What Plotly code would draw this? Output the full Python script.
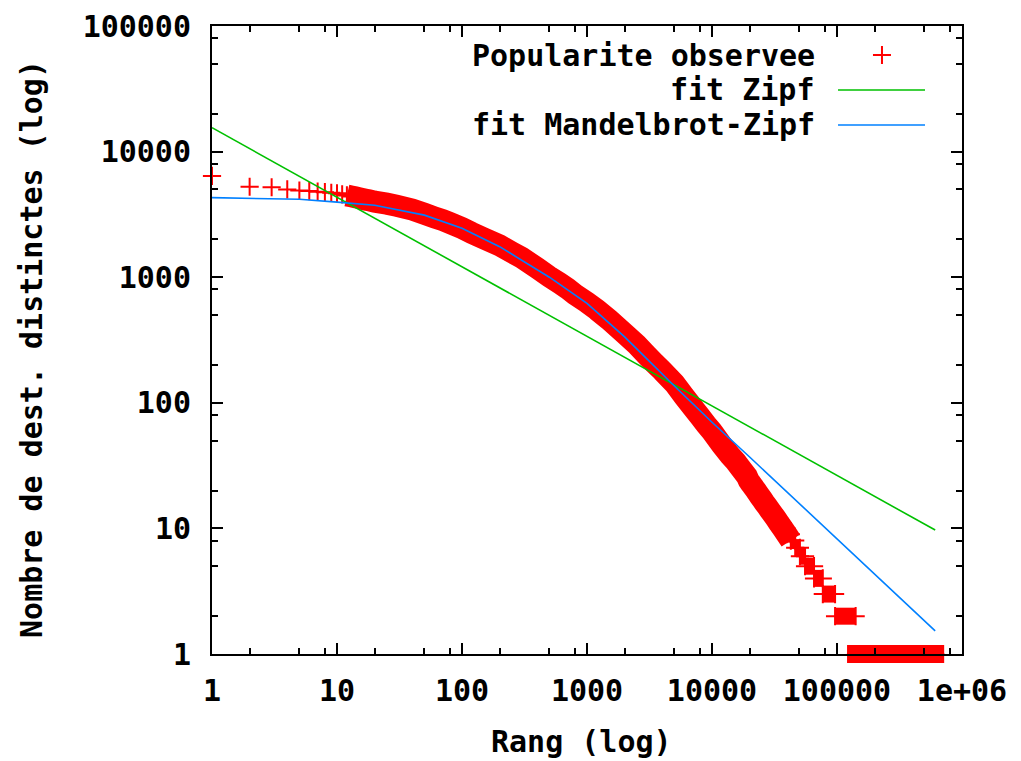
import plotly.graph_objects as go

# ---------------- data ----------------
# observed popularity: rank -> number of distinct destinations (dense part)
obs_rank = [1, 2, 3, 4, 5, 6, 7, 8, 9, 10,
            11, 12, 13, 14, 15, 16, 17, 18, 19, 20,
            25, 30, 40, 50, 60, 70, 80, 100, 120, 150,
            200, 250, 300, 400, 500, 600, 700, 800, 1000, 1200,
            1500, 2000, 2500, 3000, 3500, 4000, 5000, 6000, 7000, 8000,
            9000, 10000, 12000, 14000, 15500, 17000, 19000]
obs_value = [6400, 5250, 5200, 5000, 4900, 4850, 4800, 4750, 4700, 4650,
             4560, 4480, 4400, 4330, 4260, 4200, 4140, 4090, 4040, 3990,
             3850, 3700, 3450, 3200, 3000, 2850, 2700, 2460, 2250, 2030,
             1790, 1580, 1430, 1180, 1010, 900, 810, 730, 630, 550,
             460, 355, 290, 240, 205, 180, 143, 112, 92, 78,
             67, 59, 46, 38, 34, 30, 26]

# tail plateaus (integer counts): value, first rank, last rank
plateau_value = [25, 24, 23, 22, 21, 20, 19, 18, 17, 16, 15, 14, 13, 12, 11,
                 10, 9, 8, 7, 6, 5, 4, 3, 2]
plateau_first = [19000, 19700, 20300, 21000, 21700, 22500, 23300, 24200, 25200,
                 26300, 27600, 29000, 30600, 32400, 34400, 36800, 39500, 42700,
                 46300, 50500, 55500, 65500, 77000, 96500]
plateau_last = [19700, 20300, 21000, 21700, 22500, 23300, 24200, 25200, 26300,
                27600, 29000, 30600, 32400, 34400, 36800, 39500, 42700, 46300,
                50500, 55500, 65500, 77000, 96500, 141000]

# ranks read along the value-1 plateau (142000 .. 610000)
ones_rank = [142000, 165000, 190000, 220000, 255000, 295000,
             340000, 395000, 455000, 525000, 610000]
ones_value = [1] * len(ones_rank)

# fit Zipf (straight line in log-log)
zipf_rank = [1, 610000]
zipf_value = [15500, 9.7]

# fit Mandelbrot-Zipf
mz_rank = [1, 2, 5, 10, 20, 50, 100, 200, 500, 1000, 2000, 5000,
           10000, 20000, 50000, 100000, 200000, 400000, 610000]
mz_value = [4300, 4265, 4170, 3960, 3740, 3120, 2455, 1750, 1000, 620, 335, 136,
            70, 37, 15.7, 8.2, 4.3, 2.27, 1.53]

x_tickvals = [1, 10, 100, 1000, 10000, 100000, 1000000]
x_ticktext = ["1", "10", "100", "1000", "10000", "100000", "1e+06"]
x_minor = [2, 5, 8, 20, 50, 80, 200, 500, 800, 2000, 5000, 8000,
           20000, 50000, 80000, 200000, 500000, 800000]
y_tickvals = [1, 10, 100, 1000, 10000, 100000]
y_ticktext = ["1", "10", "100", "1000", "10000", "100000"]
y_minor = [2, 5, 8, 20, 50, 80, 200, 500, 800, 2000, 5000, 8000,
           20000, 50000, 80000]

RED = "#ff0000"
GREEN = "#00c000"
BLUE = "#0080ff"
FONT = "DejaVu Sans Mono"
FS = 30

# ---------------- figure ----------------
fig = go.Figure()

# solid band under the dense crosses: from rank 12 on, continued along the
# starts of the tail plateaus down to value 8
start = obs_rank.index(12)
stop = plateau_value.index(8) + 1
band_x = obs_rank[start:] + plateau_first[1:stop]
band_y = obs_value[start:] + plateau_value[1:stop]
fig.add_trace(go.Scatter(x=band_x, y=band_y, mode="lines",
                         line=dict(color=RED, width=22, simplify=False),
                         hoverinfo="skip", showlegend=False))

# plateau blocks of the tail
px, py = [], []
for v, a, b in zip(plateau_value, plateau_first, plateau_last):
    px += [a, b, None]
    py += [v, v, None]
fig.add_trace(go.Scatter(x=px, y=py, mode="lines",
                         line=dict(color=RED, width=17, simplify=False),
                         hoverinfo="skip", showlegend=False))

# value-1 plateau block (unclipped so it overhangs the bottom axis)
fig.add_trace(go.Scatter(x=ones_rank, y=ones_value, mode="markers",
                         marker=dict(symbol="square", size=18, color=RED,
                                     line=dict(width=0)),
                         cliponaxis=False, hoverinfo="skip", showlegend=False))

# observed points as crosses
cx = obs_rank + [r for p in zip(plateau_first, plateau_last) for r in p] + ones_rank
cy = obs_value + [v for v in plateau_value for _ in (0, 1)] + ones_value
fig.add_trace(go.Scatter(x=cx, y=cy, mode="markers", name="Popularite observee",
                         marker=dict(symbol="cross-thin", size=13,
                                     line=dict(color=RED, width=2)),
                         cliponaxis=False, showlegend=False))

fig.add_trace(go.Scatter(x=zipf_rank, y=zipf_value, mode="lines", name="fit Zipf",
                         line=dict(color=GREEN, width=1.6), showlegend=False))
fig.add_trace(go.Scatter(x=mz_rank, y=mz_value, mode="lines",
                         name="fit Mandelbrot-Zipf",
                         line=dict(color=BLUE, width=1.6), showlegend=False))

axis_common = dict(type="log", ticks="inside", ticklen=11, tickwidth=2,
                   tickcolor="black", showline=True, linecolor="black",
                   linewidth=2, mirror="ticks", showgrid=False, zeroline=False,
                   tickfont=dict(family=FONT, size=FS, color="black", weight="bold"))

fig.update_xaxes(range=[0, 6], tickmode="array", tickvals=x_tickvals,
                 ticktext=x_ticktext, ticklabelstandoff=9,
                 minor=dict(tickmode="array", tickvals=x_minor, ticks="inside",
                            ticklen=6, tickwidth=1.5, tickcolor="black",
                            showgrid=False),
                 **axis_common)
fig.update_yaxes(range=[0, 5], tickmode="array", tickvals=y_tickvals,
                 ticktext=y_ticktext, ticklabelstandoff=13,
                 minor=dict(tickmode="array", tickvals=y_minor, ticks="inside",
                            ticklen=6, tickwidth=1.5, tickcolor="black",
                            showgrid=False),
                 **axis_common)

bold = dict(family=FONT, size=FS, color="black", weight="bold")
annotations = [
    dict(text="Rang (log)", x=0.4927, y=-0.1401, xref="paper", yref="paper",
         xanchor="center", yanchor="middle", showarrow=False, font=bold),
    dict(text="Nombre de dest. distinctes (log)", x=-0.24, y=0.4857,
         xref="paper", yref="paper", xanchor="center", yanchor="middle",
         textangle=-90, showarrow=False, font=bold),
    dict(text="Popularite observee", x=0.8067, y=0.9538, xref="paper",
         yref="paper", xanchor="right", yanchor="middle", showarrow=False, font=bold),
    dict(text="fit Zipf", x=0.8067, y=0.8981, xref="paper", yref="paper",
         xanchor="right", yanchor="middle", showarrow=False, font=bold),
    dict(text="fit Mandelbrot-Zipf", x=0.8067, y=0.8424, xref="paper",
         yref="paper", xanchor="right", yanchor="middle", showarrow=False, font=bold),
]
shapes = [
    dict(type="path", xref="paper", yref="paper", xsizemode="pixel",
         ysizemode="pixel", xanchor=0.8933, yanchor=0.9538,
         path="M-9,0 L9,0 M0,-9 L0,9", line=dict(color=RED, width=2)),
    dict(type="line", xref="paper", yref="paper", x0=0.8347, x1=0.9507,
         y0=0.8981, y1=0.8981, line=dict(color=GREEN, width=1.6)),
    dict(type="line", xref="paper", yref="paper", x0=0.8347, x1=0.9507,
         y0=0.8424, y1=0.8424, line=dict(color=BLUE, width=1.6)),
]

# the page body adds an 8 px offset, so the figure is 8 px smaller
fig.update_layout(width=1013, height=753,
                  margin=dict(l=204, r=59, t=18, b=107, autoexpand=False),
                  plot_bgcolor="white", paper_bgcolor="white",
                  annotations=annotations, shapes=shapes, showlegend=False)

fig.write_html("out.html")
